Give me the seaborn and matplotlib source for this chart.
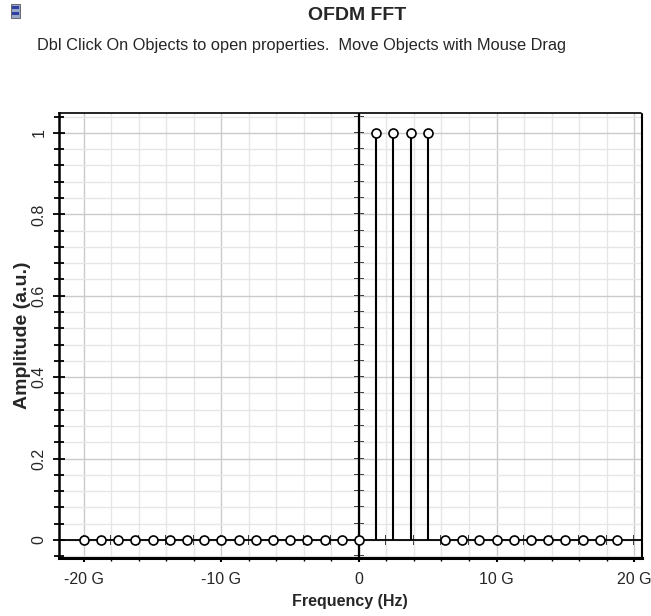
import matplotlib
matplotlib.use("Agg")
import matplotlib.pyplot as plt
import seaborn as sns
import numpy as np
import pandas as pd
from matplotlib.ticker import MultipleLocator, FixedLocator, NullFormatter
from matplotlib.patches import Rectangle

# ---- data (frequency in GHz, amplitude in a.u.) ----
freq_ghz = [-20.0, -18.75, -17.5, -16.25, -15.0, -13.75, -12.5, -11.25,
            -10.0, -8.75, -7.5, -6.25, -5.0, -3.75, -2.5, -1.25,
            0.0, 1.25, 2.5, 3.75, 5.0, 6.25, 7.5, 8.75,
            10.0, 11.25, 12.5, 13.75, 15.0, 16.25, 17.5, 18.75]
amplitude = [0, 0, 0, 0, 0, 0, 0, 0,
             0, 0, 0, 0, 0, 0, 0, 0,
             0, 1, 1, 1, 1, 0, 0, 0,
             0, 0, 0, 0, 0, 0, 0, 0]
x_ticks = [-20, -10, 0, 10, 20]
x_tick_labels = ["-20 G", "-10 G", "0", "10 G", "20 G"]
y_ticks = [0, 0.2, 0.4, 0.6, 0.8, 1]
y_tick_labels = ["0", "0.2", "0.4", "0.6", "0.8", "1"]

df = pd.DataFrame({"freq": freq_ghz, "amp": amplitude})

sns.set_style("white")
plt.rcParams["font.family"] = ["Liberation Sans", "DejaVu Sans"]

fig = plt.figure(figsize=(6.51, 6.16), dpi=100)
ax = fig.add_axes([0.0906, 0.0942, 0.8951, 0.7224])

xmin, xmax = -21.8, 20.55
ymin, ymax = -0.044, 1.049
ax.set_xlim(xmin, xmax)
ax.set_ylim(ymin, ymax)

# grid
ax.xaxis.set_major_locator(FixedLocator(x_ticks))
ax.xaxis.set_minor_locator(MultipleLocator(2))
ax.yaxis.set_major_locator(FixedLocator(y_ticks))
ax.yaxis.set_minor_locator(MultipleLocator(0.04))
ax.grid(which="major", color="#cbcbcb", lw=1.0, zorder=0)
ax.grid(which="minor", color="#e6e6e6", lw=1.0, zorder=0)

# axis lines through the origin
ax.axhline(0, color="black", lw=1.3, zorder=2)
ax.axvline(0, color="black", lw=1.6, zorder=2)

# stems
nz = df[df["amp"] != 0]
ax.vlines(nz["freq"], 0, nz["amp"], color="black", lw=1.5, zorder=2)

sns.scatterplot(data=df, x="freq", y="amp", ax=ax, marker="o", s=42,
                facecolor="white", edgecolor="black", linewidth=1.2, zorder=4)

# tick marks on the origin axes
x0 = (0 - xmin) / (xmax - xmin)
sy = ax.secondary_yaxis(x0)
sy.yaxis.set_major_locator(MultipleLocator(0.04))
sy.yaxis.set_major_formatter(NullFormatter())
sy.tick_params(axis="y", direction="inout", length=7, width=1.3, color="black")
for s in sy.spines.values():
    s.set_visible(False)

y0 = (0 - ymin) / (ymax - ymin)
sx = ax.secondary_xaxis(y0)
sx.xaxis.set_major_locator(MultipleLocator(2))
sx.xaxis.set_major_formatter(NullFormatter())
sx.tick_params(axis="x", direction="inout", length=7, width=1.3, color="black")
for s in sx.spines.values():
    s.set_visible(False)

# ticks and labels
ax.set_xticks(x_ticks)
ax.set_xticklabels(x_tick_labels)
ax.set_yticks(y_ticks)
ax.set_yticklabels(y_tick_labels, rotation=90, va="center")
ax.tick_params(axis="y", which="major", direction="inout", length=8, width=1.3,
               left=True, labelsize=11.5, pad=5, color="black")
ax.tick_params(axis="y", which="minor", direction="inout", length=7, width=1.3,
               left=True, color="black")
ax.tick_params(axis="x", which="major", direction="out", length=3, width=1.5,
               bottom=True, labelsize=11.5, pad=7, color="black")
ax.tick_params(axis="x", which="minor", direction="out", length=2, width=1,
               bottom=True, color="black")

ax.set_xlabel("Frequency (Hz)", fontsize=11.5, fontweight="bold", labelpad=5)
ax.set_ylabel("Amplitude (a.u.)", fontsize=14, fontweight="bold", labelpad=0)

# spines
ax.spines["left"].set_color("black")
ax.spines["left"].set_linewidth(1.8)
for s in ["top", "right", "bottom"]:
    ax.spines[s].set_color("black")
    ax.spines[s].set_linestyle((0, (1, 1)))
ax.spines["top"].set_linewidth(1.2)
ax.spines["right"].set_linewidth(1.5)
ax.spines["bottom"].set_linewidth(2.2)

# small window icon in the corner
icon = [Rectangle((11 / 651, 1 - 18 / 616), 9 / 651, 14 / 616, facecolor="#9aa6c8",
                  edgecolor="#555555", lw=0.6),
        Rectangle((12 / 651, 1 - 9 / 616), 7 / 651, 3 / 616, facecolor="#2e3fa0", lw=0),
        Rectangle((12 / 651, 1 - 15 / 616), 7 / 651, 3 / 616, facecolor="#2e3fa0", lw=0)]
for p in icon:
    p.set_transform(fig.transFigure)
    fig.patches.append(p)

# titles
fig.text(0.548, 0.975, "OFDM FFT", ha="center", va="center",
         fontsize=14, fontweight="bold")
fig.text(0.463, 0.926,
         "Dbl Click On Objects to open properties.  Move Objects with Mouse Drag",
         ha="center", va="center", fontsize=11.8)

fig.savefig("out.png", dpi=100, facecolor="white")
